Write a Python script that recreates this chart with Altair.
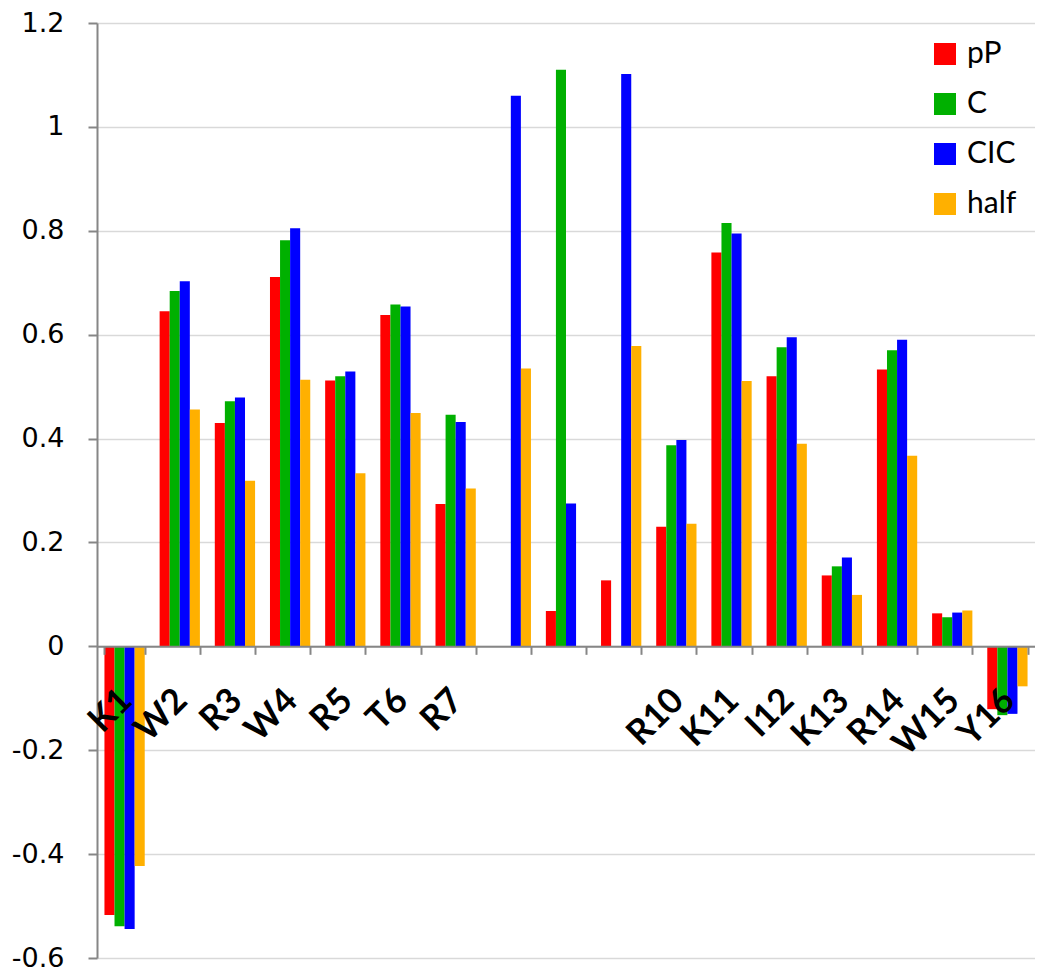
import altair as alt
import pandas as pd

categories = ["K1", "W2", "R3", "W4", "R5", "T6", "R7", " ", "  ", "   ",
              "R10", "K11", "I12", "K13", "R14", "W15", "Y16"]
series_names = ["pP", "C", "CIC", "half"]
colors = ["#FF0000", "#00B000", "#0000FF", "#FFB000"]

pP = [-0.517, 0.645, 0.430, 0.711, 0.512, 0.638, 0.274, None, 0.068, 0.127,
      0.230, 0.758, 0.520, 0.1365, 0.533, 0.0635, -0.121]
C = [-0.539, 0.684, 0.472, 0.782, 0.520, 0.658, 0.446, None, 1.110, None,
     0.387, 0.815, 0.576, 0.154, 0.570, 0.056, -0.1325]
CIC = [-0.544, 0.703, 0.479, 0.805, 0.529, 0.654, 0.432, 1.060, 0.275, 1.102,
       0.397, 0.795, 0.595, 0.171, 0.590, 0.065, -0.130]
half = [-0.423, 0.456, 0.319, 0.513, 0.333, 0.449, 0.304, 0.535, None, 0.578,
        0.236, 0.511, 0.390, 0.099, 0.367, 0.069, -0.077]

y_ticks = [-0.6, -0.4, -0.2, 0, 0.2, 0.4, 0.6, 0.8, 1.0, 1.2]

rows = []
for name, vals in zip(series_names, [pP, C, CIC, half]):
    for cat, v in zip(categories, vals):
        if v is not None:
            rows.append({"cat": cat, "series": name, "value": v})
df = pd.DataFrame(rows)

W = 938
H = 935
ymin, ymax = -0.6, 1.2
zero_offset = -H * (0 - ymin) / (ymax - ymin)

chart = alt.Chart(df).mark_bar().encode(
    x=alt.X("cat:N", sort=categories,
            scale=alt.Scale(domain=categories, paddingInner=0.27, paddingOuter=0.135),
            axis=alt.Axis(title=None, offset=zero_offset, tickBand="extent",
                          labelAngle=-45, labelAlign="right", labelBaseline="middle",
                          labelFont="Lato", labelFontWeight="bold", labelFontSize=35,
                          labelColor="black", labelPadding=40, labelOffset=1,
                          domainColor="#868686", domainWidth=2,
                          tickColor="#868686", tickWidth=2, tickSize=8,
                          grid=False, zindex=1)),
    xOffset=alt.XOffset("series:N", sort=series_names,
                        scale=alt.Scale(domain=series_names, paddingInner=0, paddingOuter=0)),
    y=alt.Y("value:Q", scale=alt.Scale(domain=[ymin, ymax], nice=False, zero=False),
            axis=alt.Axis(title=None, values=y_ticks,
                          labelExpr="replace(format(datum.value, '.1~f'), '\u2212', '-')",
                          labelFont="DejaVu Sans", labelFontSize=27, labelColor="black",
                          labelPadding=24,
                          domainColor="#868686", domainWidth=2,
                          tickColor="#868686", tickWidth=2, tickSize=9,
                          grid=True, gridColor="#D9D9D9", gridWidth=1.5)),
    color=alt.Color("series:N", sort=series_names,
                    scale=alt.Scale(domain=series_names, range=colors),
                    legend=alt.Legend(title=None, orient="none", legendX=833, legendY=16,
                                      symbolType="square", symbolSize=484,
                                      symbolStrokeWidth=0, labelFont="Lato",
                                      labelFontSize=30, labelColor="black",
                                      rowPadding=20, labelOffset=7, padding=0)),
).properties(
    width=W, height=H,
    autosize=alt.AutoSizeParams(type="none"),
    padding={"left": 89, "top": 15, "right": 0, "bottom": 13},
).configure_view(stroke=None)

chart.save("out.html", embed_options={"renderer": "svg", "actions": False})
